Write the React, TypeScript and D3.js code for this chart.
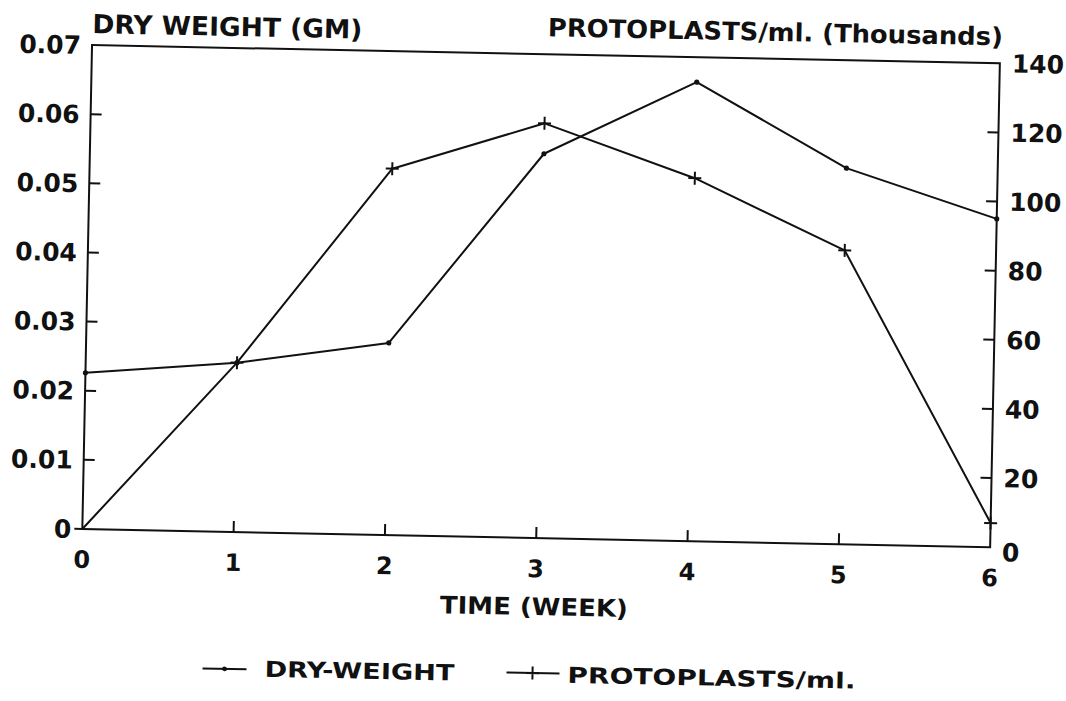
import React from "react";
import * as d3 from "d3";

const weeks = [0, 1, 2, 3, 4, 5, 6];
const dryWeight = [0.0226, 0.0245, 0.0278, 0.0556, 0.0664, 0.0544, 0.0475];
const protoplasts = [0, 49, 106, 120, 105, 85, 7];
const leftTicks = [0, 0.01, 0.02, 0.03, 0.04, 0.05, 0.06, 0.07];
const leftTickLabels = ["0", "0.01", "0.02", "0.03", "0.04", "0.05", "0.06", "0.07"];
const rightTicks = [0, 20, 40, 60, 80, 100, 120, 140];
const xTickLabels = ["0", "1", "2", "3", "4", "5", "6"];

const W = 1066;
const H = 701;
const M = { left: 86, right: 994, top: 54, bottom: 538 };
const FONT = "'DejaVu Sans', 'Liberation Sans', Arial, sans-serif";

export default function App() {
  const x = d3.scaleLinear().domain([0, 6]).range([M.left, M.right]);
  const yL = d3.scaleLinear().domain([0, 0.07]).range([M.bottom, M.top]);
  const yR = d3.scaleLinear().domain([0, 140]).range([M.bottom, M.top]);

  const dryLine = d3
    .line<number>()
    .x((_, i) => x(weeks[i]))
    .y((d) => yL(d));
  const protoLine = d3
    .line<number>()
    .x((_, i) => x(weeks[i]))
    .y((d) => yR(d));

  const tickLen = 11;
  const sw = 2;
  const plus = 6.5;

  return (
    <svg
      width={W}
      height={H}
      style={{ position: "absolute", left: 0, top: 0, background: "#fff" }}
      fontFamily={FONT}
      fontWeight="bold"
    >
      <rect x={0} y={0} width={W} height={H} fill="#fff" />
      <g transform="rotate(1.15, 533, 350)" fill="#111" stroke="none">
        {/* frame */}
        <rect
          x={M.left}
          y={M.top}
          width={M.right - M.left}
          height={M.bottom - M.top}
          fill="none"
          stroke="#111"
          strokeWidth={sw}
        />
        {/* left ticks */}
        {leftTicks.map((t, i) => (
          <g key={"l" + i}>
            {i > 0 && i < leftTicks.length - 1 && (
              <line x1={M.left} x2={M.left + tickLen} y1={yL(t)} y2={yL(t)} stroke="#111" strokeWidth={sw} />
            )}
            <text x={M.left - 11} y={yL(t)} dy="0.36em" textAnchor="end" fontSize={25}>
              {leftTickLabels[i]}
            </text>
          </g>
        ))}
        {i0Line()}
        {/* right ticks */}
        {rightTicks.map((t, i) => (
          <g key={"r" + i}>
            {i > 0 && i < rightTicks.length - 1 && (
              <line x1={M.right} x2={M.right - tickLen} y1={yR(t)} y2={yR(t)} stroke="#111" strokeWidth={sw} />
            )}
            <text x={M.right + 12} y={yR(t)} dy={i === 0 ? "0.55em" : "0.36em"} textAnchor="start" fontSize={25}>
              {t}
            </text>
          </g>
        ))}
        {/* x ticks */}
        {weeks.map((w, i) => (
          <g key={"x" + i}>
            {i > 0 && i < weeks.length - 1 && (
              <line x1={x(w)} x2={x(w)} y1={M.bottom} y2={M.bottom - tickLen} stroke="#111" strokeWidth={sw} />
            )}
            <text x={x(w)} y={M.bottom + 39} textAnchor="middle" fontSize={24}>
              {xTickLabels[i]}
            </text>
          </g>
        ))}
        {/* titles */}
        <text x={221} y={42} textAnchor="middle" fontSize={26} textLength={270} lengthAdjust="spacingAndGlyphs">
          DRY WEIGHT (GM)
        </text>
        <text x={769} y={36} textAnchor="middle" fontSize={25} textLength={455} lengthAdjust="spacingAndGlyphs">
          PROTOPLASTS/ml. (Thousands)
        </text>
        <text x={539} y={615} textAnchor="middle" fontSize={24} textLength={188} lengthAdjust="spacingAndGlyphs">
          TIME (WEEK)
        </text>

        {/* series */}
        <path d={dryLine(dryWeight) || ""} fill="none" stroke="#111" strokeWidth={sw} strokeLinejoin="round" />
        <path d={protoLine(protoplasts) || ""} fill="none" stroke="#111" strokeWidth={sw} strokeLinejoin="round" />
        {dryWeight.map((d, i) => (
          <circle key={"dd" + i} cx={x(weeks[i])} cy={yL(d)} r={2.6} fill="#111" />
        ))}
        {protoplasts.map((d, i) =>
          i === 0 ? null : (
            <path
              key={"pp" + i}
              d={`M${x(weeks[i]) - plus},${yR(d)}H${x(weeks[i]) + plus}M${x(weeks[i])},${yR(d) - plus}V${yR(d) + plus}`}
              stroke="#111"
              strokeWidth={sw}
              fill="none"
            />
          )
        )}

        {/* legend */}
        <line x1={209} x2={253} y1={675} y2={675} stroke="#111" strokeWidth={sw} />
        <circle cx={231} cy={675} r={2.4} fill="#111" />
        <text x={271} y={682} fontSize={22} textLength={190} lengthAdjust="spacingAndGlyphs">
          DRY-WEIGHT
        </text>
        <line x1={513} x2={566} y1={673} y2={673} stroke="#111" strokeWidth={sw} />
        <path d={`M${539 - plus},673H${539 + plus}M539,${673 - plus}V${673 + plus}`} stroke="#111" strokeWidth={sw} />
        <text x={574} y={682} fontSize={22} textLength={288} lengthAdjust="spacingAndGlyphs">
          PROTOPLASTS/ml.
        </text>
      </g>
    </svg>
  );

  function i0Line() {
    return (
      <line x1={M.left - 8} x2={M.left} y1={M.bottom} y2={M.bottom} stroke="#111" strokeWidth={sw} />
    );
  }
}
